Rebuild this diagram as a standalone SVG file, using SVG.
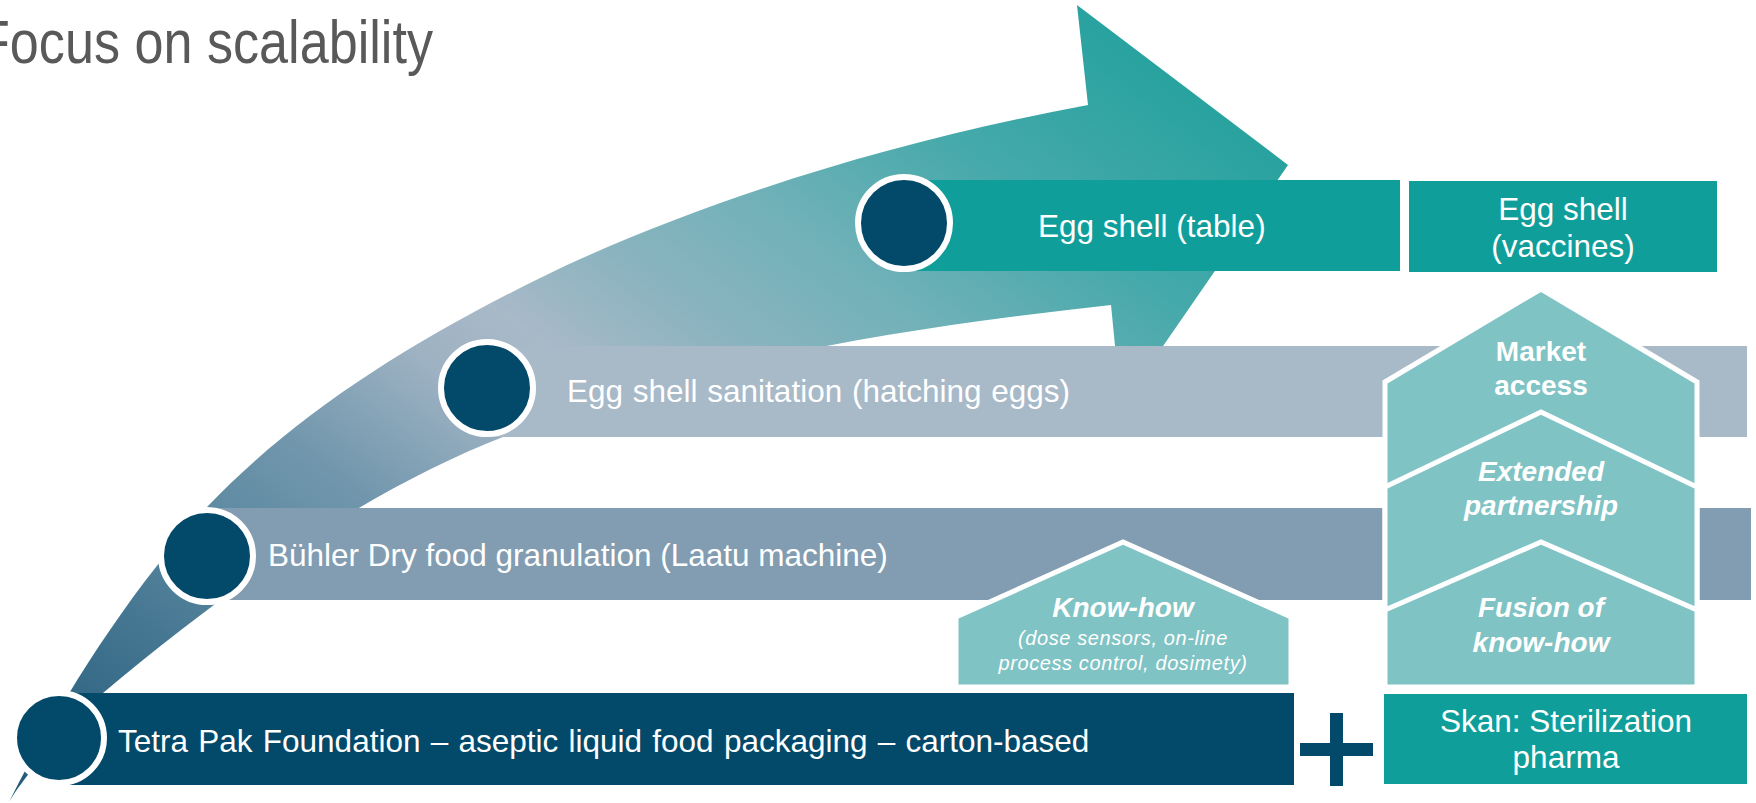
<svg xmlns="http://www.w3.org/2000/svg" width="1756" height="803" viewBox="0 0 1756 803">
<defs>
<linearGradient id="arrowGrad" gradientUnits="userSpaceOnUse" x1="0" y1="750" x2="750" y2="-250">
<stop offset="0" stop-color="#245c7b"/>
<stop offset="0.26" stop-color="#5f8ba3"/>
<stop offset="0.34" stop-color="#7297ad"/>
<stop offset="0.45" stop-color="#9cb1c2"/>
<stop offset="0.52" stop-color="#a9b9c8"/>
<stop offset="0.6" stop-color="#8eb4c0"/>
<stop offset="0.72" stop-color="#70b1b8"/>
<stop offset="0.85" stop-color="#45a9aa"/>
<stop offset="1" stop-color="#27a29f"/>
</linearGradient>
<style>
.t{font-family:"Liberation Sans",Arial,sans-serif;fill:#ffffff;font-size:31.5px}
.c{text-anchor:middle}
.b{font-weight:bold;font-size:28px}
.bi{font-weight:bold;font-style:italic;font-size:28px}
.si{font-style:italic;font-size:20px;letter-spacing:0.6px}
.dot{fill:#02496a;stroke:#ffffff;stroke-width:6}
.house{fill:#7fc3c4;stroke:#ffffff;stroke-width:5;stroke-linejoin:miter}
.navy{fill:#02496a}
.teal{fill:#0f9e9a}
</style>
</defs>
<rect width="1756" height="803" fill="#ffffff"/>

<text x="-22" y="63" font-family="Liberation Sans,Arial,sans-serif" font-size="61" fill="#595959" textLength="455" lengthAdjust="spacingAndGlyphs">Focus on scalability</text>

<g id="connectors">
<path d="M 9,802 C 60,700 130,590 207,507 C 300,410 420,335 567,265 C 720,195 900,140 1088,105 L 1077,5 L 1288,165 L 1121,407 L 1111,305 C 900,328 700,360 503,437 C 380,485 250,570 103,693 C 60,735 25,775 9,802 Z" fill="url(#arrowGrad)"/>
</g>

<g id="egg-shell-table">
<rect x="904" y="180" width="496" height="91" class="teal"/>
<circle cx="904" cy="223" r="46" class="dot"/>
<text x="1038" y="237" class="t">Egg shell (table)</text>
</g>

<g id="egg-shell-vaccines">
<rect x="1409" y="181" width="308" height="91" class="teal"/>
<text x="1563" y="220" class="t c">Egg shell</text>
<text x="1563" y="257" class="t c">(vaccines)</text>
</g>

<g id="egg-shell-sanitation">
<rect x="487" y="346" width="1260" height="91" fill="#a8b9c8"/>
<circle cx="487" cy="388" r="46" class="dot"/>
<text x="567" y="402" class="t" word-spacing="1">Egg shell sanitation (hatching eggs)</text>
</g>

<g id="buhler">
<rect x="207" y="508" width="1544" height="92" fill="#829db1"/>
<circle cx="207" cy="556" r="46" class="dot"/>
<text x="268" y="566" class="t">Bühler Dry food granulation (Laatu machine)</text>
</g>

<g id="tetra-pak">
<rect x="60" y="693" width="1234" height="92" class="navy"/>
<circle cx="59" cy="738" r="45" class="dot"/>
<text x="118" y="752" class="t" word-spacing="1.5">Tetra Pak Foundation – aseptic liquid food packaging – carton-based</text>
</g>

<g id="know-how">
<polygon points="956,617 1123,542 1291,617 1291,687 956,687" class="house"/>
<text x="1123" y="617" class="t c bi">Know-how</text>
<text x="1123" y="645" class="t c si">(dose sensors, on-line</text>
<text x="1123" y="670" class="t c si">process control, dosimety)</text>
</g>

<g id="plus">
<rect x="1330" y="713" width="13" height="73" class="navy"/>
<rect x="1300" y="743" width="73" height="13" class="navy"/>
</g>

<g id="market-access">
<polygon points="1385,382 1541,289 1697,382 1697,687 1385,687" class="house"/>
<text x="1541" y="361" class="t c b">Market</text>
<text x="1541" y="395" class="t c b">access</text>
</g>

<g id="extended-partnership">
<polygon points="1385,487 1541,412 1697,487 1697,687 1385,687" class="house"/>
<text x="1541" y="481" class="t c bi">Extended</text>
<text x="1541" y="515" class="t c bi">partnership</text>
</g>

<g id="fusion">
<polygon points="1385,610 1541,542 1697,610 1697,687 1385,687" class="house"/>
<text x="1541" y="617" class="t c bi">Fusion of</text>
<text x="1541" y="652" class="t c bi">know-how</text>
</g>

<g id="skan">
<rect x="1384" y="694" width="363" height="90" class="teal"/>
<text x="1566" y="732" class="t c">Skan: Sterilization</text>
<text x="1566" y="768" class="t c">pharma</text>
</g>
</svg>
